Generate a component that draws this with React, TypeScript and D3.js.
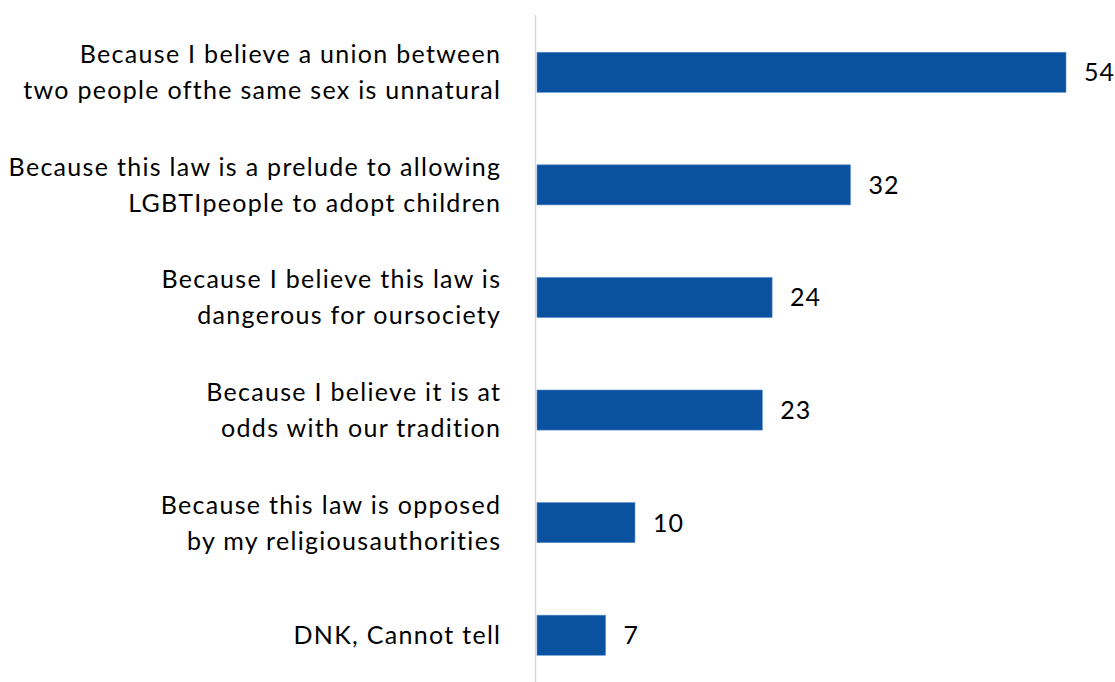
import React from "react";
import * as d3 from "d3";

const categories: string[][] = [
  ["Because I believe a union between", "two people ofthe same sex is unnatural"],
  ["Because this law is a prelude to allowing", "LGBTIpeople to adopt children"],
  ["Because I believe this law is", "dangerous for oursociety"],
  ["Because I believe it is at", "odds with our tradition"],
  ["Because this law is opposed", "by my religiousauthorities"],
  ["DNK, Cannot tell"],
];
const values: number[] = [54, 32, 24, 23, 10, 7];

const W = 1115;
const H = 682;
const FONT = "'Lato', 'Open Sans', sans-serif";

export default function App() {
  const x = d3.scaleLinear().domain([0, 54]).range([537, 1066]);
  const y = d3
    .scaleBand<number>()
    .domain(d3.range(values.length))
    .range([16, 691.5])
    .paddingInner(0.644)
    .paddingOuter(0.322);
  const bh = y.bandwidth();
  return (
    <svg
      width={W}
      height={H}
      style={{ position: "absolute", left: 0, top: 0, background: "#fff" }}
      fontFamily={FONT}
    >
      <line x1={535.5} x2={535.5} y1={15} y2={H} stroke="#d9d9d9" strokeWidth={1.5} />
      {values.map((v, i) => {
        const cy = (y(i) as number) + bh / 2;
        const lines = categories[i];
        const lh = 36;
        return (
          <g key={i}>
            <rect
              x={x(0)}
              y={y(i)}
              width={x(v) - x(0)}
              height={bh}
              fill="#0a52a0"
              stroke="#5a8ccc"
              strokeWidth={0.6}
            />
            <text
              x={x(v) + 18}
              y={cy}
              dy="0.36em"
              fontSize={25}
              letterSpacing={1}
              fill="#000"
            >
              {v}
            </text>
            {lines.map((t, j) => (
              <text
                key={j}
                x={501.3}
                y={cy + (j - (lines.length - 1) / 2) * lh}
                dy="0.36em"
                textAnchor="end"
                fontSize={25}
                letterSpacing={1.3}
                fill="#000"
              >
                {t}
              </text>
            ))}
          </g>
        );
      })}
    </svg>
  );
}
